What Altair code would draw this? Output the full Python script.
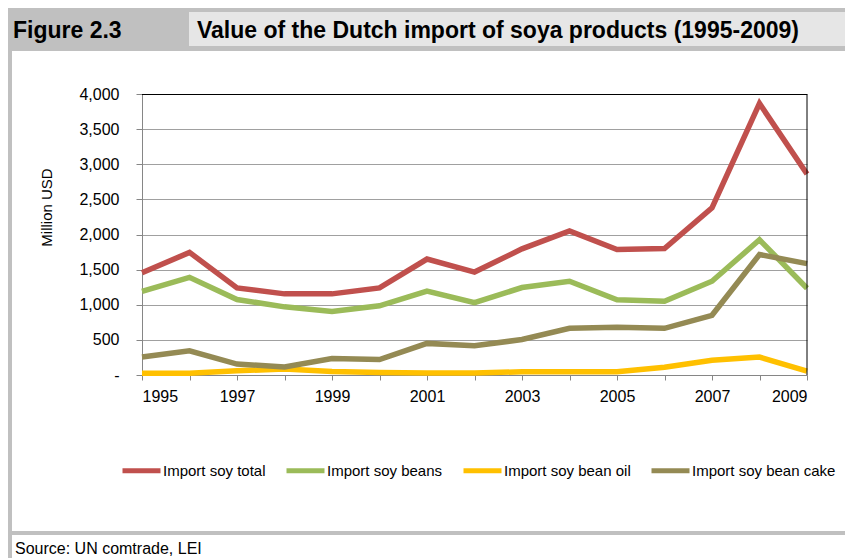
import altair as alt
import pandas as pd

# ---- data ----
years = list(range(1995, 2010))
series_names = ["Import soy total", "Import soy beans", "Import soy bean oil", "Import soy bean cake"]
series_colors = ["#C0504D", "#9BBB59", "#FFC000", "#948A54"]
soy_total = [1455, 1745, 1240, 1155, 1155, 1240, 1650, 1465, 1795, 2050, 1785, 1800, 2380, 3865, 2860]
soy_beans = [1190, 1390, 1075, 970, 905, 985, 1195, 1030, 1245, 1335, 1070, 1050, 1335, 1925, 1235]
soy_oil = [25, 25, 60, 85, 50, 35, 30, 30, 45, 45, 45, 110, 210, 255, 55]
soy_cake = [255, 345, 155, 115, 235, 220, 450, 415, 505, 665, 680, 665, 850, 1715, 1585]
y_ticks = [0, 500, 1000, 1500, 2000, 2500, 3000, 3500, 4000]

fig_label = "Figure 2.3"
fig_title = "Value of the Dutch import of soya products (1995-2009)"
source_text = "Source: UN comtrade, LEI"
y_title = "Million USD"

FONT = "Liberation Sans"

rows = []
for name, vals in zip(series_names, [soy_total, soy_beans, soy_oil, soy_cake]):
    for yr, v in zip(years, vals):
        rows.append({"year": yr, "value": v, "series": name})
df = pd.DataFrame(rows)

W, H = 665, 281
one = alt.Data(values=[{"k": 1}])

def rect(x, x2, y, y2, color):
    return alt.Chart(one).mark_rect(color=color).encode(
        x=alt.value(x), x2=alt.value(x2), y=alt.value(y), y2=alt.value(y2))

def label(text, x, y, size, weight="normal"):
    return alt.Chart(one).mark_text(
        align="left", baseline="alphabetic", fontSize=size, fontWeight=weight,
        font=FONT, color="black").encode(
        x=alt.value(x), y=alt.value(y), text=alt.value(text))

header_band = rect(-140, 760, -86, -43, "#c0c0c0")
title_box = rect(47, 760, -82, -48, "#e6e6e6")
left_border = rect(-134, -130, -43, 470, "#c0c0c0")
bottom_line = rect(-140, 760, 437, 441, "#c0c0c0")

fig_text = label(fig_label, -129, -56, 23, "bold")
title_text = label(fig_title, 55, -56, 23, "bold")
src_text = label(source_text, -127, 460, 16)

top_rule = alt.Chart(one).mark_rule(color="black", strokeWidth=1).encode(
    x=alt.value(0), x2=alt.value(W), y=alt.value(0.5))
right_rule = alt.Chart(one).mark_rule(color="black", strokeWidth=1).encode(
    x=alt.value(W), y=alt.value(0), y2=alt.value(H))

lines = alt.Chart(df).mark_line(strokeWidth=5.5).encode(
    x=alt.X("year:Q",
            scale=alt.Scale(domain=[1995, 2009], nice=False, zero=False),
            axis=alt.Axis(values=years, format="d",
                          labelExpr="datum.value % 2 == 1 ? datum.label : ''",
                          title=None, grid=False, tickSize=5, labelPadding=8,
                          domainColor="#868686", tickColor="#868686",
                          labelFont=FONT, labelFontSize=16,
                          labelColor="black")),
    y=alt.Y("value:Q",
            scale=alt.Scale(domain=[0, 4000], nice=False),
            axis=alt.Axis(values=y_ticks,
                          labelExpr="datum.value == 0 ? '-\u00a0\u00a0' : format(datum.value, ',')",
                          title=y_title, titleFont=FONT,
                          titleFontSize=15, titleFontWeight="normal",
                          titleColor="black", titleAngle=270,
                          titleX=-96, titleY=113, titleAlign="center",
                          titleBaseline="middle",
                          grid=True, gridColor="#a0a0a0", gridWidth=1,
                          tickSize=6, labelPadding=17,
                          domainColor="#868686", tickColor="#868686",
                          labelFont=FONT, labelFontSize=16,
                          labelColor="black")),
    color=alt.Color("series:N",
                    scale=alt.Scale(domain=series_names, range=series_colors),
                    legend=alt.Legend(orient="none", legendX=-22, legendY=355,
                                      direction="horizontal", title=None,
                                      symbolType="stroke", symbolSize=1444,
                                      symbolStrokeWidth=5,
                                      labelFont=FONT,
                                      labelFontSize=15, labelOffset=0,
                                      columnPadding=10, labelColor="black",
                                      labelLimit=0)),
)

chart = alt.layer(
    header_band, title_box, left_border, bottom_line,
    fig_text, title_text, src_text,
    lines, top_rule, right_rule,
).properties(
    width=W, height=H,
    autosize=alt.AutoSizeParams(type="none"),
    padding={"left": 134, "top": 86, "right": 38, "bottom": 183},
    background="white",
).configure_view(stroke=None)

chart.save("out.html", embed_options={"renderer": "svg", "actions": False})
